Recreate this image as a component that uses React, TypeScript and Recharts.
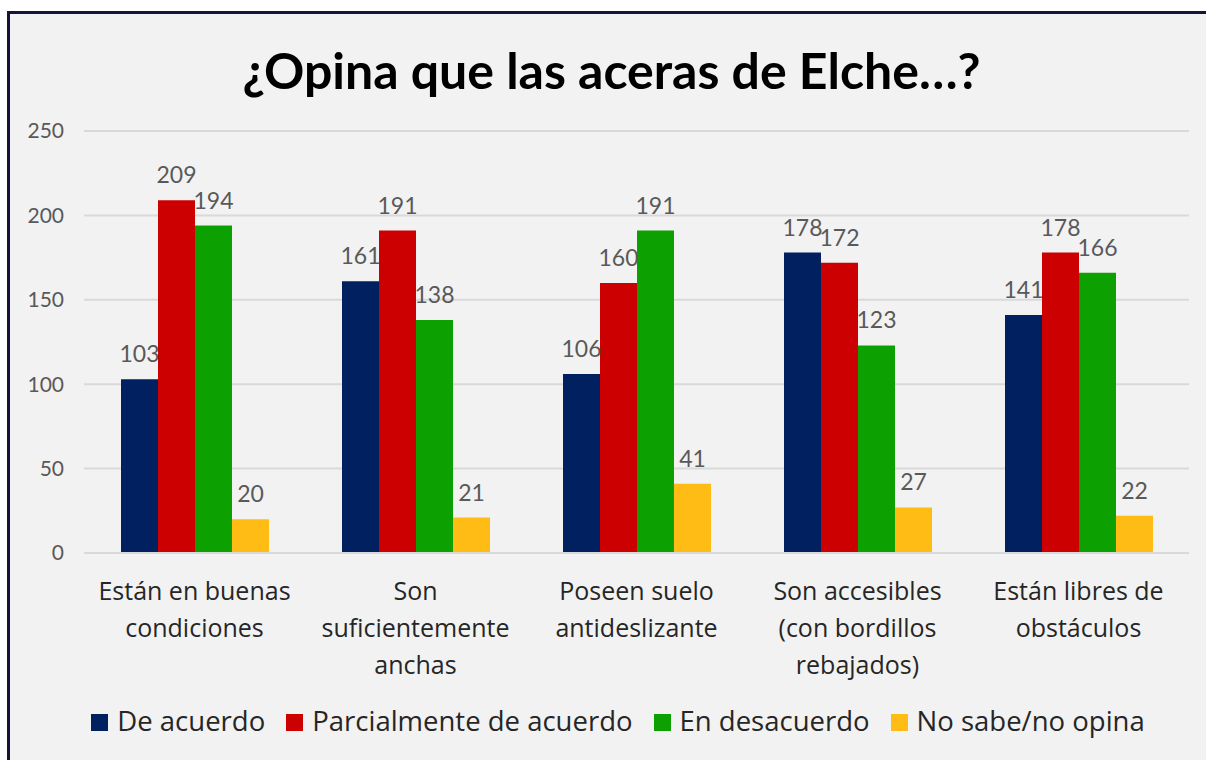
import React from 'react';
import { BarChart, Bar, XAxis, YAxis, CartesianGrid, LabelList } from 'recharts';

// categorías del eje X (saltos de línea como en el original)
const categories = [
  'Están en buenas\ncondiciones',
  'Son\nsuficientemente\nanchas',
  'Poseen suelo\nantideslizante',
  'Son accesibles\n(con bordillos\nrebajados)',
  'Están libres de\nobstáculos',
];

const deAcuerdo = [103, 161, 106, 178, 141];
const parcialmente = [209, 191, 160, 172, 178];
const desacuerdo = [194, 138, 191, 123, 166];
const noSabe = [20, 21, 41, 27, 22];

const yTicks = [0, 50, 100, 150, 200, 250];

const series = [
  { key: 'deAcuerdo', name: 'De acuerdo', color: '#002060', values: deAcuerdo },
  { key: 'parcialmente', name: 'Parcialmente de acuerdo', color: '#CC0000', values: parcialmente },
  { key: 'desacuerdo', name: 'En desacuerdo', color: '#0CA000', values: desacuerdo },
  { key: 'noSabe', name: 'No sabe/no opina', color: '#FFBC14', values: noSabe },
];

const data = categories.map((c, i) => {
  const row: any = { category: c };
  series.forEach((s) => { row[s.key] = s.values[i]; });
  return row;
});

const FONT = 'Lato, "Open Sans", sans-serif';
const WIDE = '"Open Sans", Lato, sans-serif';

const CategoryTick = (props: any) => {
  const { x, y, payload } = props;
  const lines = String(payload.value).split('\n');
  return (
    <text x={x} y={y} textAnchor="middle" fill="#262626" fontSize={25} fontFamily={WIDE}>
      {lines.map((l, i) => (
        <tspan key={i} x={x} dy={i === 0 ? 39 : 37}>{l}</tspan>
      ))}
    </text>
  );
};

export default function App() {
  return (
    <div style={{ position: 'absolute', left: 0, top: 0, width: 1206, height: 760, background: '#fff', overflow: 'hidden', fontFamily: FONT }}>
      <div style={{ position: 'absolute', left: 7, top: 11, width: 1230, height: 790, border: '3px solid #141438', background: '#F2F2F2', boxSizing: 'border-box' }} />
      <div style={{ position: 'absolute', left: 0, top: 40, width: 1223, textAlign: 'center', fontSize: 50, fontWeight: 700, color: '#000', lineHeight: 'normal' }}>
        ¿Opina que las aceras de Elche…?
      </div>
      <div style={{ position: 'absolute', left: 0, top: 0 }}>
        <BarChart
          width={1206}
          height={760}
          data={data}
          margin={{ top: 131, right: 17, bottom: 87, left: 0 }}
          barGap={0}
          barSize={37}
        >
          <CartesianGrid vertical={false} stroke="#D9D9D9" strokeWidth={2} />
          <XAxis
            dataKey="category"
            height={120}
            interval={0}
            tickLine={false}
            axisLine={{ stroke: '#D9D9D9', strokeWidth: 2 }}
            tick={<CategoryTick />}
          />
          <YAxis
            width={84}
            domain={[0, 250]}
            ticks={yTicks}
            tickLine={false}
            axisLine={false}
            tickMargin={14}
            tick={{ fill: '#595959', fontSize: 21, fontFamily: FONT }}
          />
          {series.map((s) => (
            <Bar key={s.key} dataKey={s.key} name={s.name} fill={s.color} isAnimationActive={false}>
              <LabelList dataKey={s.key} position="top" offset={17} fill="#595959" fontSize={23} fontFamily={FONT} />
            </Bar>
          ))}
        </BarChart>
      </div>
      <div style={{ position: 'absolute', left: 0, top: 702, width: 1236, display: 'flex', justifyContent: 'center', fontSize: 27.5, color: '#262626', lineHeight: 'normal', fontFamily: WIDE }}>
        {series.map((s, i) => (
          <div key={s.key} style={{ display: 'flex', alignItems: 'center', marginLeft: i === 0 ? 0 : 21 }}>
            <span style={{ display: 'inline-block', width: 17, height: 17, background: s.color, marginRight: 9, marginTop: 3 }} />
            <span>{s.name}</span>
          </div>
        ))}
      </div>
    </div>
  );
}
